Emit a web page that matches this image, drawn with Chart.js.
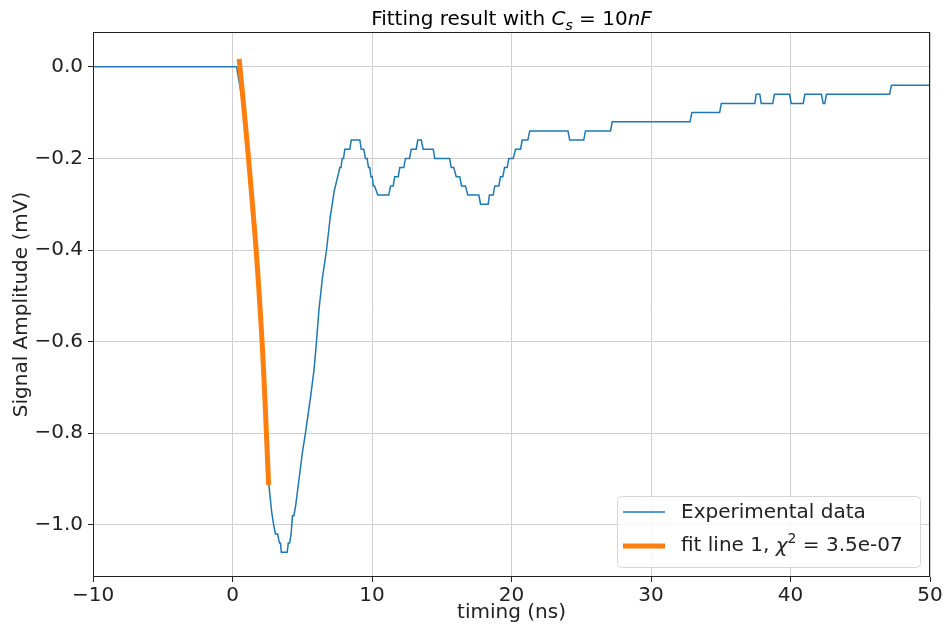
<!DOCTYPE html>
<html lang="en">
<head>
<meta charset="UTF-8">
<title>Fitting result</title>
<script src="https://cdn.jsdelivr.net/npm/chart.js"></script>
<style>
    body { margin: 0; background: white; }
    #wrap { width: 947px; height: 631px; }
</style>
</head>
<body>
<div id="wrap"><canvas id="chart"></canvas></div>
<script>
// experimental waveform (ns, mV) at each step change
const timing = [
    -10, 0.3, 0.4, 0.8, 1.12, 1.67, 2.1, 2.43, 2.6, 2.8, 2.95, 3.08, 3.23, 3.37, 3.44, 3.5, 3.92,
    4.0, 4.1, 4.2, 4.3, 4.4, 4.52, 4.77, 5.02, 5.23, 5.6, 5.85, 6.02, 6.2, 6.45, 6.74, 7.0, 7.3, 7.62,
    7.69, 7.78, 7.86, 7.96, 8.05, 8.41, 8.51, 9.13, 9.23, 9.41, 9.53, 9.65, 9.75, 9.84, 9.92, 10.01,
    10.1, 10.18, 10.42, 11.2, 11.33, 11.52, 11.63, 11.88, 11.99, 12.28, 12.4, 12.69, 12.81, 13.17,
    13.28, 13.53, 13.67, 14.39, 14.5, 15.56, 15.68, 15.86, 16.04, 16.29, 16.42, 16.7, 16.87, 17.66,
    17.78, 18.33, 18.42, 18.69, 18.8, 19.09, 19.21, 19.38, 19.5, 19.69, 19.81, 20.12, 20.29, 20.65,
    20.77, 21.17, 21.31, 24.05, 24.17, 25.18, 25.3, 27.1, 27.22, 32.8, 32.93, 34.92, 35.04, 37.44,
    37.54, 37.8, 37.9, 38.73, 38.85, 39.93, 40.05, 40.91, 41.03, 42.22, 42.34, 42.46, 42.58, 47.1,
    47.24, 50
];
const amplitude = [
    0, 0, -0.02, -0.09, -0.19, -0.39, -0.59, -0.8, -0.91, -0.97, -1.0, -1.02, -1.02, -1.04, -1.04, -1.06, -1.06,
    -1.04, -1.04, -1.02, -0.98, -0.98, -0.96, -0.9, -0.84, -0.8, -0.72, -0.66, -0.6, -0.53, -0.46, -0.4, -0.33, -0.27, -0.23,
    -0.22, -0.22, -0.2, -0.2, -0.18, -0.18, -0.16, -0.16, -0.18, -0.18, -0.2, -0.2, -0.22, -0.22, -0.24, -0.24,
    -0.26, -0.26, -0.28, -0.28, -0.26, -0.26, -0.24, -0.24, -0.22, -0.22, -0.2, -0.2, -0.18, -0.18,
    -0.16, -0.16, -0.18, -0.18, -0.2, -0.2, -0.22, -0.22, -0.24, -0.24, -0.26, -0.26, -0.28, -0.28,
    -0.3, -0.3, -0.28, -0.28, -0.26, -0.26, -0.24, -0.24, -0.22, -0.22, -0.2, -0.2, -0.18, -0.18,
    -0.16, -0.16, -0.14, -0.14, -0.16, -0.16, -0.14, -0.14, -0.12, -0.12, -0.1, -0.1, -0.08, -0.08,
    -0.06, -0.06, -0.08, -0.08, -0.06, -0.06, -0.08, -0.08, -0.06, -0.06, -0.08, -0.08, -0.06, -0.06,
    -0.04, -0.04
];

// fit curve
const fitTiming = [0.48, 0.8, 1.12, 1.4, 1.67, 1.9, 2.1, 2.27, 2.43, 2.59];
const fitAmplitude = [0.017, -0.085, -0.19, -0.29, -0.39, -0.49, -0.59, -0.69, -0.8, -0.913];

const xTicks = [-10, 0, 10, 20, 30, 40, 50];
const yTicks = [-1.0, -0.8, -0.6, -0.4, -0.2, 0.0];

const FONT = '"DejaVu Sans", sans-serif';
const BLUE = '#1f77b4';
const ORANGE = '#ff7f0e';

const minus = s => s.replace('-', '\u2212');

// draws a list of text pieces (with font / vertical offset) left to right
function drawPieces(ctx, pieces, x, y) {
    pieces.forEach(p => {
        ctx.font = p.f;
        ctx.fillText(p.t, x, y + (p.dy || 0));
        x += ctx.measureText(p.t).width;
    });
}
function piecesWidth(ctx, pieces) {
    let w = 0;
    pieces.forEach(p => { ctx.font = p.f; w += ctx.measureText(p.t).width; });
    return w;
}

const framePlugin = {
    id: 'frame',
    afterDraw(chart) {
        const {ctx, chartArea: a} = chart;
        ctx.save();
        ctx.strokeStyle = '#222';
        ctx.lineWidth = 1;
        ctx.strokeRect(Math.round(a.left) + 0.5, Math.round(a.top) + 0.5,
                       Math.round(a.right - a.left) - 1, Math.round(a.bottom - a.top) - 1);

        // title with math parts
        const title = [
            {t: 'Fitting result with ', f: '20px ' + FONT},
            {t: 'C', f: 'italic 20px ' + FONT},
            {t: 's', f: 'italic 14px ' + FONT, dy: 5},
            {t: ' = 10', f: '20px ' + FONT},
            {t: 'nF', f: 'italic 20px ' + FONT}
        ];
        ctx.fillStyle = '#000';
        ctx.textBaseline = 'alphabetic';
        ctx.textAlign = 'left';
        const tw = piecesWidth(ctx, title);
        drawPieces(ctx, title, (a.left + a.right) / 2 - tw / 2, 25);

        // legend box
        const lx = 617, ly = 496, lw = 303, lh = 71;
        ctx.beginPath();
        ctx.roundRect(lx + 0.5, ly + 0.5, lw, lh, 4);
        ctx.fillStyle = 'rgba(255,255,255,0.8)';
        ctx.fill();
        ctx.strokeStyle = '#d6d6d6';
        ctx.stroke();

        ctx.lineCap = 'butt';
        ctx.strokeStyle = BLUE;
        ctx.lineWidth = 1.5;
        ctx.beginPath(); ctx.moveTo(623, 512); ctx.lineTo(665, 512); ctx.stroke();
        ctx.strokeStyle = ORANGE;
        ctx.lineWidth = 5;
        ctx.beginPath(); ctx.moveTo(623, 546); ctx.lineTo(665, 546); ctx.stroke();

        ctx.fillStyle = '#222';
        ctx.textBaseline = 'middle';
        drawPieces(ctx, [{t: 'Experimental data', f: '20px ' + FONT}], 681, 513);
        drawPieces(ctx, [
            {t: 'fit line 1, ', f: '20px ' + FONT},
            {t: '\u03c7', f: 'italic 20px ' + FONT, dy: 1},
            {t: '2', f: '14px ' + FONT, dy: -7},
            {t: ' = 3.5e-07', f: '20px ' + FONT}
        ], 681, 546);
        ctx.restore();
    }
};

const ctx = document.getElementById('chart').getContext('2d');
const chart = new Chart(ctx, {
    type: 'line',
    data: {
        datasets: [
            {
                label: 'Experimental data',
                data: timing.map((t, i) => ({x: t, y: amplitude[i]})),
                borderColor: BLUE,
                borderWidth: 1.5,
                pointRadius: 0,
                tension: 0,
                order: 1
            },
            {
                label: 'fit line 1',
                data: fitTiming.map((t, i) => ({x: t, y: fitAmplitude[i]})),
                borderColor: ORANGE,
                borderWidth: 5,
                pointRadius: 0,
                tension: 0.3,
                order: 0
            }
        ]
    },
    options: {
        responsive: true,
        maintainAspectRatio: false,
        animation: false,
        layout: { padding: { left: 0, top: 32, right: 17, bottom: 0 } },
        plugins: {
            legend: { display: false },
            tooltip: { enabled: false }
        },
        scales: {
            x: {
                type: 'linear',
                min: -10,
                max: 50,
                afterFit: s => { s.height = 54; },
                afterBuildTicks: s => { s.ticks = xTicks.map(v => ({value: v})); },
                grid: { color: '#d0d0d0', tickColor: '#222', tickLength: 5 },
                border: { display: false },
                ticks: {
                    color: '#222',
                    padding: 2,
                    maxRotation: 0,
                    font: { family: FONT, size: 20 },
                    callback: v => minus(String(v))
                },
                title: {
                    display: true,
                    text: 'timing (ns)',
                    color: '#222',
                    font: { family: FONT, size: 20 },
                    padding: { top: 0, bottom: 6 }
                }
            },
            y: {
                min: -1.114,
                max: 0.076,
                afterFit: s => { s.width = 93; },
                afterBuildTicks: s => { s.ticks = yTicks.map(v => ({value: v})); },
                grid: { color: '#d0d0d0', tickColor: '#222', tickLength: 5 },
                border: { display: false },
                ticks: {
                    color: '#222',
                    padding: 5,
                    font: { family: FONT, size: 20 },
                    callback: v => minus(v.toFixed(1))
                },
                title: {
                    display: true,
                    text: 'Signal Amplitude (mV)',
                    color: '#222',
                    font: { family: FONT, size: 20 },
                    padding: { top: 10, bottom: 0 }
                }
            }
        }
    },
    plugins: [framePlugin]
});
</script>
</body>
</html>
